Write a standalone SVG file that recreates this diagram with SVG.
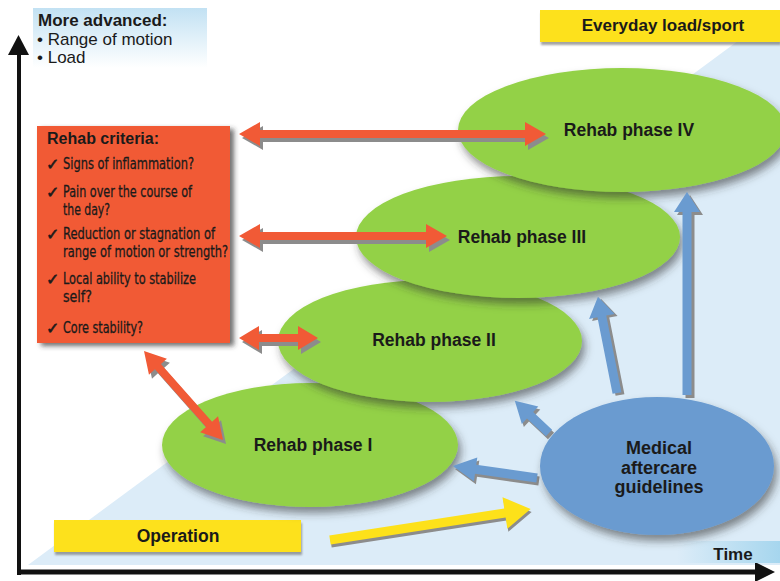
<svg xmlns="http://www.w3.org/2000/svg" width="780" height="581" viewBox="0 0 780 581">
<defs>
  <linearGradient id="gAdv" x1="0" y1="0" x2="0" y2="1">
    <stop offset="0" stop-color="#c2e1f3"/>
    <stop offset="1" stop-color="#ffffff"/>
  </linearGradient>
  <linearGradient id="gTime" x1="0" y1="0" x2="1" y2="0">
    <stop offset="0" stop-color="#dcecf8"/>
    <stop offset="1" stop-color="#a6d6ee"/>
  </linearGradient>
  <filter id="shE" x="-20%" y="-20%" width="140%" height="150%">
    <feDropShadow dx="3" dy="6" stdDeviation="4" flood-color="#333" flood-opacity="0.55"/>
  </filter>
  <filter id="shB" x="-10%" y="-10%" width="130%" height="130%">
    <feDropShadow dx="4" dy="3" stdDeviation="2.5" flood-color="#333" flood-opacity="0.7"/>
  </filter>
  <filter id="shY" x="-5%" y="-20%" width="110%" height="160%">
    <feDropShadow dx="1" dy="3" stdDeviation="1" flood-color="#666" flood-opacity="0.6"/>
  </filter>
</defs>
<style>
  .b { font-family: "Liberation Sans", Arial, sans-serif; font-weight: bold; fill: #1a1a1a; }
  .n { font-family: "Liberation Sans", Arial, sans-serif; fill: #1a1a1a; }
  .c { font-family: "Liberation Sans Narrow", "DejaVu Sans Condensed", "Liberation Sans", sans-serif; font-size: 16px; fill: #1a1a1a; stroke: #1a1a1a; stroke-width: 0.3; }
  .ck { font-family: "DejaVu Sans", sans-serif; font-size: 16px; fill: #1a1a1a; stroke: #1a1a1a; stroke-width: 0.6; }
  .ph { fill: #93d147; filter: url(#shE); }
  .red { fill: #f15a36; }
  .rsh { fill: #8c8c8c; }
  .blue { fill: #6a9bd0; }
  .yel { fill: #fde11a; }
  .axis { fill: none; stroke: #111; }
</style>

<!-- background -->
<rect width="780" height="581" fill="#ffffff"/>
<polygon points="28,565 780,10 780,565" fill="#dcecf8"/>

<!-- axes -->
<g id="axes">
  <line class="axis" x1="19" y1="575" x2="19" y2="52" stroke-width="4"/>
  <polygon points="8,55 18.5,35 29,55" fill="#111"/>
  <line class="axis" x1="17" y1="572" x2="758" y2="572" stroke-width="5"/>
  <polygon points="755,562 775,572 755,582" fill="#111"/>
</g>

<g id="more-advanced">
  <rect x="33" y="8" width="174" height="60" fill="url(#gAdv)"/>
  <text class="b" x="38" y="26" font-size="17">More advanced:</text>
  <text class="n" x="37" y="45" font-size="17">• Range of motion</text>
  <text class="n" x="37" y="63" font-size="17">• Load</text>
</g>

<g id="everyday">
  <rect class="yel" x="540" y="10" width="240" height="32" filter="url(#shY)"/>
  <text class="b" x="663" y="31" font-size="17" text-anchor="middle">Everyday load/sport</text>
</g>

<g id="time">
  <rect x="677" y="541" width="103" height="22" fill="url(#gTime)"/>
  <text class="b" x="733" y="560" font-size="17" text-anchor="middle">Time</text>
</g>

<g id="operation">
  <rect class="yel" x="54" y="520" width="247" height="32" filter="url(#shY)"/>
  <text class="b" x="178" y="542" font-size="17.5" text-anchor="middle">Operation</text>
</g>

<!-- phases -->
<g id="phase1">
  <ellipse class="ph" cx="310" cy="445" rx="148" ry="62"/>
  <text class="b" x="313" y="451" font-size="17.5" text-anchor="middle">Rehab phase I</text>
</g>
<g id="phase2">
  <ellipse class="ph" cx="430" cy="341" rx="152" ry="61"/>
  <text class="b" x="434" y="346" font-size="17.5" text-anchor="middle">Rehab phase II</text>
</g>
<g id="phase3">
  <ellipse class="ph" cx="518" cy="237" rx="162" ry="61"/>
  <text class="b" x="522" y="243" font-size="17.5" text-anchor="middle">Rehab phase III</text>
</g>
<g id="phase4">
  <ellipse class="ph" cx="622" cy="130" rx="164" ry="62"/>
  <text class="b" x="629" y="136" font-size="17.5" text-anchor="middle">Rehab phase IV</text>
</g>

<g id="criteria">
  <rect x="37" y="126" width="193" height="217" fill="#f15a36" filter="url(#shB)"/>
  <text class="b" x="47" y="144" font-size="16">Rehab criteria:</text>
  <text class="ck" x="46" y="170">✓</text>
  <text class="c" x="63" y="169" textLength="131" lengthAdjust="spacingAndGlyphs">Signs of inflammation?</text>
  <text class="ck" x="46" y="198">✓</text>
  <text class="c" x="63" y="197" textLength="129" lengthAdjust="spacingAndGlyphs">Pain over the course of</text>
  <text class="c" x="63" y="215" textLength="47" lengthAdjust="spacingAndGlyphs">the day?</text>
  <text class="ck" x="46" y="240">✓</text>
  <text class="c" x="63" y="239" textLength="152" lengthAdjust="spacingAndGlyphs">Reduction or stagnation of</text>
  <text class="c" x="63" y="257" textLength="165" lengthAdjust="spacingAndGlyphs">range of motion or strength?</text>
  <text class="ck" x="46" y="285">✓</text>
  <text class="c" x="63" y="284" textLength="133" lengthAdjust="spacingAndGlyphs">Local ability to stabilize</text>
  <text class="c" x="63" y="302" textLength="29" lengthAdjust="spacingAndGlyphs">self?</text>
  <text class="ck" x="46" y="334">✓</text>
  <text class="c" x="63" y="333" textLength="80" lengthAdjust="spacingAndGlyphs">Core stability?</text>
</g>

<!-- connectors -->
<g id="connectors">
  <!-- blue arrows from medical guidelines -->
  <g transform="translate(690,398) rotate(-90)">
    <path class="rsh" d="M0,-4.5 H183 V-13 L203,0 L183,13 V4.5 H0 Z"/>
  </g>
  <g transform="translate(687,395) rotate(-90)">
    <path class="blue" d="M0,-4.5 H183 V-13 L203,0 L183,13 V4.5 H0 Z"/>
  </g>
  <g transform="translate(620,395) rotate(-101.2)">
    <path class="rsh" d="M0,-4.5 H78 V-13 L98,0 L78,13 V4.5 H0 Z"/>
  </g>
  <g transform="translate(617,393) rotate(-101.2)">
    <path class="blue" d="M0,-4.5 H78 V-13 L98,0 L78,13 V4.5 H0 Z"/>
  </g>
  <g transform="translate(551,436) rotate(-136.7)">
    <path class="rsh" d="M0,-4.5 H26 V-12 L47,0 L26,12 V4.5 H0 Z"/>
  </g>
  <g transform="translate(549,433) rotate(-136.7)">
    <path class="blue" d="M0,-4.5 H26 V-12 L47,0 L26,12 V4.5 H0 Z"/>
  </g>
  <g transform="translate(539,481) rotate(-171.9)">
    <path class="rsh" d="M0,-4.5 H62 V-12 L85,0 L62,12 V4.5 H0 Z"/>
  </g>
  <g transform="translate(537,478) rotate(-171.9)">
    <path class="blue" d="M0,-4.5 H62 V-12 L85,0 L62,12 V4.5 H0 Z"/>
  </g>

  <!-- yellow arrow operation -> guidelines -->
  <g transform="translate(331,543) rotate(-8.77)">
    <path class="rsh" d="M0,-4.5 H177 V-16 L203,0 L177,16 V4.5 H0 Z"/>
  </g>
  <g transform="translate(330,540) rotate(-8.77)">
    <path class="yel" d="M0,-4.5 H177 V-16 L203,0 L177,16 V4.5 H0 Z"/>
  </g>

  <!-- red double arrows -->
  <path class="rsh" transform="translate(242,138)" d="M0,0 L21,-12 V-4 H286 V-12 L307,0 L286,12 V4 H21 V12 Z"/>
  <path class="red" transform="translate(239,134)" d="M0,0 L21,-12 V-4 H286 V-12 L307,0 L286,12 V4 H21 V12 Z"/>

  <path class="rsh" transform="translate(242,240)" d="M0,0 L21,-12 V-4 H187 V-12 L208,0 L187,12 V4 H21 V12 Z"/>
  <path class="red" transform="translate(239,236)" d="M0,0 L21,-12 V-4 H187 V-12 L208,0 L187,12 V4 H21 V12 Z"/>

  <path class="rsh" transform="translate(242,342)" d="M0,0 L20,-12 V-4 H59 V-12 L79,0 L59,12 V4 H20 V12 Z"/>
  <path class="red" transform="translate(239,338)" d="M0,0 L20,-12 V-4 H59 V-12 L79,0 L59,12 V4 H20 V12 Z"/>

  <g transform="translate(147,355) rotate(48.4)">
    <path class="rsh" d="M0,0 L21,-12 V-4 H98 V-12 L119,0 L98,12 V4 H21 V12 Z"/>
  </g>
  <g transform="translate(144,351) rotate(48.4)">
    <path class="red" d="M0,0 L21,-12 V-4 H98 V-12 L119,0 L98,12 V4 H21 V12 Z"/>
  </g>
</g>

<g id="medical">
  <ellipse cx="657" cy="466" rx="117" ry="69" fill="#6a9bd0" filter="url(#shE)"/>
  <text class="b" x="659" y="454" font-size="18" text-anchor="middle">Medical</text>
  <text class="b" x="659" y="474" font-size="18" text-anchor="middle">aftercare</text>
  <text class="b" x="659" y="493" font-size="18" text-anchor="middle">guidelines</text>
</g>
</svg>
